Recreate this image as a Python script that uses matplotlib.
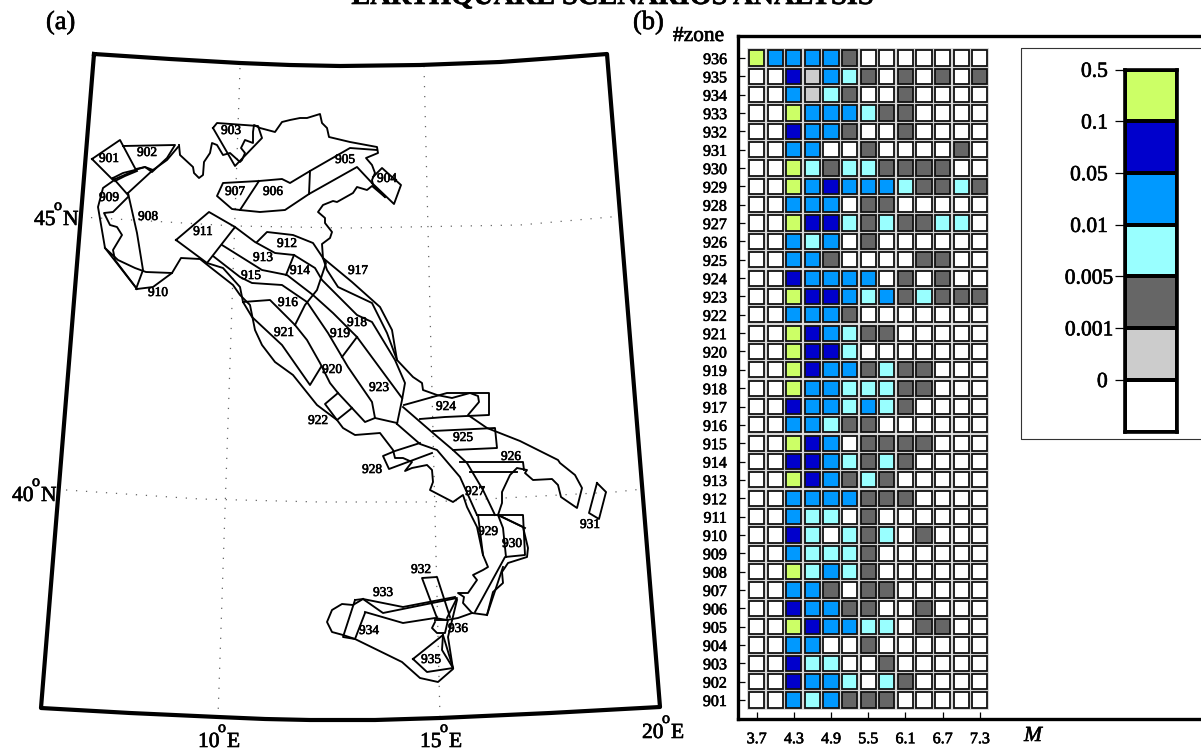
"""
Two panels: (a) seismogenic zone map of Italy, (b) zone vs magnitude probability grid.
"""

import numpy as np
import matplotlib
matplotlib.use('Agg')
import matplotlib.pyplot as plt
import matplotlib.patheffects as pe
from matplotlib.colors import ListedColormap
from matplotlib.patches import Rectangle
from matplotlib.text import Text

plt.rcParams['font.family'] = ['Liberation Serif', 'DejaVu Serif']

W, H = 1201, 750

# ── Panel (b) data ────────────────────────────────────────────────────────────
zones = list(range(936, 900, -1))
magnitudes = [3.7, 4.0, 4.3, 4.6, 4.9, 5.2, 5.5, 5.8, 6.1, 6.4, 6.7, 7.0, 7.3]
mag_ticks = [3.7, 4.3, 4.9, 5.5, 6.1, 6.7, 7.3]

# class index per zone (rows) and magnitude (columns), 0 = white ... 6 = yellow-green
classes = [
    [6, 4, 4, 4, 4, 2, 0, 0, 0, 0, 0, 0, 0],  # 936
    [0, 0, 5, 1, 4, 3, 2, 0, 2, 0, 2, 0, 2],
    [0, 0, 4, 1, 3, 2, 0, 0, 2, 0, 0, 0, 0],
    [0, 0, 6, 4, 4, 4, 3, 2, 2, 0, 0, 0, 0],
    [0, 0, 5, 4, 4, 2, 0, 0, 2, 0, 0, 0, 0],
    [0, 0, 4, 4, 0, 0, 2, 0, 0, 0, 0, 2, 0],
    [0, 0, 6, 3, 2, 3, 3, 2, 2, 2, 2, 0, 0],  # 930
    [0, 0, 6, 4, 5, 4, 4, 4, 3, 2, 2, 3, 2],
    [0, 0, 4, 4, 4, 0, 2, 2, 0, 0, 0, 0, 0],
    [0, 0, 6, 5, 5, 3, 2, 3, 2, 2, 3, 3, 0],
    [0, 0, 4, 3, 4, 0, 2, 0, 0, 0, 0, 0, 0],
    [0, 0, 4, 4, 2, 0, 0, 0, 0, 2, 2, 0, 0],
    [0, 0, 5, 4, 4, 4, 4, 0, 2, 0, 2, 0, 0],
    [0, 0, 6, 5, 5, 4, 3, 4, 2, 3, 2, 2, 2],
    [0, 0, 4, 4, 4, 2, 0, 0, 0, 0, 0, 0, 0],
    [0, 0, 6, 5, 4, 3, 2, 2, 0, 0, 0, 0, 0],
    [0, 0, 6, 5, 5, 3, 0, 0, 0, 0, 0, 0, 0],  # 920
    [0, 0, 6, 5, 4, 4, 2, 3, 2, 2, 0, 0, 0],
    [0, 0, 6, 4, 4, 3, 3, 3, 2, 2, 0, 0, 0],
    [0, 0, 5, 4, 4, 3, 4, 3, 2, 0, 0, 0, 0],
    [0, 0, 4, 4, 3, 2, 2, 0, 0, 0, 0, 0, 0],
    [0, 0, 6, 5, 4, 0, 2, 2, 2, 2, 0, 0, 0],
    [0, 0, 5, 5, 4, 3, 2, 3, 2, 0, 0, 0, 0],
    [0, 0, 6, 5, 4, 2, 3, 2, 0, 0, 0, 0, 0],
    [0, 0, 4, 4, 4, 4, 2, 2, 2, 0, 0, 0, 0],
    [0, 0, 4, 3, 3, 0, 2, 0, 0, 0, 0, 0, 0],
    [0, 0, 5, 3, 0, 3, 2, 3, 0, 2, 0, 0, 0],  # 910
    [0, 0, 4, 3, 3, 3, 2, 0, 0, 0, 0, 0, 0],
    [0, 0, 6, 3, 4, 3, 2, 0, 0, 0, 0, 0, 0],
    [0, 0, 4, 4, 2, 0, 2, 2, 0, 0, 0, 0, 0],
    [0, 0, 5, 4, 4, 2, 2, 0, 0, 2, 0, 0, 0],
    [0, 0, 6, 5, 4, 4, 3, 3, 0, 2, 2, 0, 0],
    [0, 0, 4, 4, 0, 0, 2, 0, 0, 0, 0, 0, 0],
    [0, 0, 5, 3, 3, 0, 0, 2, 0, 0, 0, 0, 0],
    [0, 0, 5, 4, 4, 3, 0, 3, 2, 0, 0, 0, 0],
    [0, 0, 4, 3, 4, 2, 2, 2, 0, 0, 0, 0, 0],  # 901
]

class_colors = ['#FFFFFF', '#CCCCCC', '#666666', '#99FFFF', '#0099FF', '#0000CC', '#CCFF66']
class_labels = ['0', '0.001', '0.005', '0.01', '0.05', '0.1', '0.5']

# ── Panel (a) data, map sheet coordinates ─────────────────────────────────────
frame = [(94, 54), (170, 59), (240, 63), (290, 65), (340, 66), (420, 65), (500, 62), (555, 58), (607, 54),
         (660, 707), (550, 713), (440, 718), (375, 720), (310, 720), (265, 719), (218, 717), (130, 713),
         (41, 708), (94, 54)]
meridians = [[(240, 68), (218, 717)], [(424, 66), (440, 718)]]
parallels = [[(81, 217), (235, 226), (350, 228), (520, 225), (622, 216)],
             [(66, 490), (200, 499), (320, 502), (430, 502), (615, 492), (643, 489)]]

coast = [(178, 147), (167, 160), (153, 170), (145, 167), (135, 170), (123, 173), (113, 178)]
alps = [(179, 145), (180, 155), (193, 167), (194, 173), (199, 178), (203, 175), (204, 162), (210, 153),
        (212, 143), (217, 145), (223, 155), (230, 153), (240, 162), (242, 160), (245, 153), (241, 148),
        (245, 140), (253, 143), (253, 132), (254, 125), (260, 128), (275, 132), (282, 122), (290, 120),
        (300, 118), (307, 118), (320, 114), (322, 123), (327, 128), (329, 137), (350, 142), (377, 147),
        (378, 153), (366, 158), (372, 165), (375, 173), (372, 180), (373, 185), (385, 197)]
adriatic = [(385, 197), (372, 186), (367, 190), (357, 187), (353, 193), (337, 202), (333, 201), (323, 205),
            (318, 212), (325, 218), (325, 223), (332, 232), (330, 238), (322, 244), (323, 258), (327, 270),
            (338, 287), (372, 303), (387, 333), (397, 360), (413, 377), (422, 383), (423, 390), (437, 395),
            (452, 398), (470, 393), (478, 396), (479, 402), (468, 415), (487, 428), (520, 441), (558, 460),
            (560, 463), (575, 475), (582, 488), (577, 508), (561, 497), (558, 485), (552, 479), (533, 480),
            (525, 473), (527, 470), (517, 468), (510, 475), (502, 492), (502, 503), (498, 515), (523, 527),
            (528, 548), (527, 557), (508, 563), (502, 572), (503, 583), (493, 592), (487, 615), (472, 613),
            (463, 603), (464, 597), (458, 593), (468, 593), (477, 580), (473, 575), (483, 570), (488, 567),
            (483, 555), (477, 527), (467, 507), (463, 495), (453, 502), (430, 490), (433, 482), (432, 470),
            (427, 465), (412, 468), (405, 471), (412, 462), (403, 458), (395, 458), (393, 450), (380, 433),
            (355, 435), (343, 428), (337, 420), (317, 405), (293, 375), (275, 362), (262, 345), (255, 330),
            (250, 305), (240, 295), (233, 285), (210, 267), (200, 259), (181, 258), (172, 273), (153, 287),
            (137, 289), (115, 260), (113, 250), (122, 235), (117, 227), (110, 225), (104, 213), (113, 212),
            (128, 197)]
sicily = [(363, 599), (353, 605), (342, 604), (332, 610), (327, 622), (332, 632), (343, 635), (355, 639),
          (402, 662), (420, 678), (438, 682), (453, 669), (448, 637), (457, 600)]
sicily_north = [(365, 612), (403, 623), (435, 618), (447, 620), (458, 618), (472, 613)]

zone_lines = [
    [(92, 159), (120, 140), (136, 170), (113, 180), (92, 159)],  # 901
    [(123, 146), (175, 145), (167, 158), (152, 172), (145, 167), (136, 169)],  # 902
    [(115, 181), (125, 176), (137, 171)],
    [(213, 128), (217, 123), (258, 126), (262, 138), (235, 166), (213, 128)],  # 903
    [(373, 177), (382, 168), (401, 185), (394, 204), (372, 183)],  # 904
    [(259, 181), (282, 179), (290, 183), (310, 171), (350, 148), (377, 150)],
    [(240, 210), (260, 212), (285, 210), (309, 194), (357, 167), (372, 183)],
    [(310, 171), (309, 194)],
    [(259, 181), (223, 183), (217, 196), (232, 209), (240, 210), (259, 181)],  # 907
    [(128, 193), (137, 233), (143, 270), (136, 289)],  # 908
    [(153, 170), (128, 193)],
    [(113, 181), (103, 188), (98, 207), (105, 248), (118, 260), (135, 268), (146, 272), (172, 273)],  # 909
    [(113, 178), (128, 195)],
    [(105, 248), (137, 289)],  # 910
    [(176, 240), (209, 212), (235, 227), (207, 263), (176, 240)],  # 911
    [(257, 242), (267, 232), (293, 235), (313, 243), (323, 258), (326, 263), (317, 290), (305, 305), (295, 325)],
    [(235, 227), (255, 242), (275, 253), (294, 255), (315, 268), (322, 280), (357, 315), (372, 322), (395, 360),
     (405, 383), (402, 400), (397, 424)],
    [(222, 245), (262, 270), (287, 275), (313, 295), (333, 313), (357, 337), (402, 398)],
    [(294, 255), (286, 275)],
    [(213, 256), (240, 277), (252, 283), (282, 285), (307, 302), (328, 333), (348, 367), (372, 402), (375, 418),
     (397, 423)],
    [(207, 263), (223, 268), (240, 287), (243, 302), (252, 317), (282, 345), (310, 385), (321, 367)],
    [(243, 302), (270, 300), (295, 325), (307, 340), (320, 363), (330, 383), (338, 393), (352, 408), (365, 422),
     (375, 418)],
    [(357, 337), (342, 357)],
    [(323, 258), (352, 282), (380, 307), (392, 330), (397, 360)],  # 917
    [(338, 393), (325, 404), (337, 420), (352, 408)],  # 922
    [(404, 405), (447, 393), (489, 393), (489, 415), (445, 417), (420, 419)],  # 924
    [(403, 407), (433, 433), (453, 450), (467, 463), (483, 490), (495, 515)],
    [(397, 424), (420, 444), (437, 450), (460, 477), (477, 515)],
    [(433, 431), (495, 428), (497, 448), (453, 450)],  # 925
    [(460, 462), (523, 462), (524, 470)],
    [(470, 472), (517, 472)],
    [(420, 443), (395, 451), (383, 456), (389, 469), (432, 453)],  # 928
    [(477, 515), (523, 515), (525, 555), (505, 557), (475, 612)],  # 929
    [(498, 515), (503, 528), (506, 557)],
    [(478, 515), (483, 555)],
    [(487, 615), (503, 567)],
    [(498, 515), (525, 528)],
    [(597, 483), (606, 492), (599, 519), (589, 513), (597, 483)],  # 931
    [(437, 618), (422, 578), (437, 577), (450, 617)],  # 932
    [(355, 600), (363, 599), (383, 613), (457, 598), (447, 618)],  # 933
    [(363, 599), (403, 607), (455, 597)],
    [(355, 600), (343, 637), (355, 639), (365, 613)],  # 934
    [(413, 659), (443, 635), (453, 668), (427, 672), (413, 659)],  # 935
    [(435, 622), (432, 628), (437, 633), (445, 633), (448, 620), (435, 620)],  # 936
    [(443, 635), (442, 650), (453, 668)],
]

zone_names = list(range(901, 937))
zone_label_xy = [(109, 159), (147, 153), (231, 131), (387, 179), (345, 160), (273, 192), (235, 192), (148, 217),
                 (109, 198), (158, 293), (203, 232), (287, 244), (263, 258), (300, 271), (251, 276), (288, 303),
                 (358, 271), (357, 323), (340, 334), (332, 370), (284, 333), (318, 421), (379, 388), (446, 407),
                 (463, 438), (511, 457), (475, 492), (372, 470), (488, 532), (512, 544), (590, 525), (421, 570),
                 (383, 593), (369, 631), (431, 660), (458, 629)]

# ── Figure ────────────────────────────────────────────────────────────────────
fig = plt.figure(figsize=(W / 100, H / 100), dpi=100)


def px_axes(left, top, right, bottom):
    return fig.add_axes([left / W, 1 - bottom / H, (right - left) / W, (bottom - top) / H])


def draw(ax, pts, **kw):
    a = np.array(pts)
    ax.plot(a[:, 0], a[:, 1], solid_joinstyle='round', **kw)


# Map
ax = px_axes(0, 0, W, H)
ax.set_xlim(0, W)
ax.set_ylim(H, 0)
ax.axis('off')

for grid_line in meridians + parallels:
    draw(ax, grid_line, color='#666666', lw=0.9, ls=(0, (1, 7)))
draw(ax, frame, color='black', lw=3.0)
for line in [coast, alps, adriatic, sicily, sicily_north] + zone_lines:
    draw(ax, line, color='black', lw=1.35)
for name, (x, y) in zip(zone_names, zone_label_xy):
    ax.text(x, y, str(name), fontsize=9.6, ha='center', va='center', color='black')


def degree_label(x, y, number, letter):
    ax.text(x, y, number, fontsize=15.5, ha='left', va='baseline')
    ax.text(x + 20, y - 15, 'o', fontsize=11.5, ha='left', va='baseline')
    ax.text(x + 29, y, letter, fontsize=15.5, ha='left', va='baseline')


degree_label(34, 225, '45', 'N')
degree_label(12, 501, '40', 'N')
degree_label(198, 747, '10', 'E')
degree_label(420, 747, '15', 'E')
degree_label(642, 738, '20', 'E')

ax.text(46, 29, '(a)', fontsize=19, ha='left', va='baseline')
ax.text(633, 29, '(b)', fontsize=19, ha='left', va='baseline')
ax.text(673, 41, '#zone', fontsize=15.4, ha='left', va='baseline')
ax.text(613, 4, 'EARTHQUAKE SCENARIOS ANALYSIS', fontsize=20.4, fontweight='bold', ha='center', va='baseline')
ax.text(1024, 741, 'M', fontsize=15.5, style='italic', ha='left', va='baseline')

# Legend box, open on the right edge
ax.plot([W, 1021, 1021, W], [47.5, 47.5, 439, 439], color='#333333', lw=0.8)

# Grid
ax2 = px_axes(738, 36, W, 718.7)
ax2.set_xlim(3.4, 3.4 + 463 / 62)
ax2.set_ylim(899.98, 937.2)
ax2.patch.set_alpha(0)
for spine in ['left', 'top', 'bottom']:
    ax2.spines[spine].set_linewidth(2.4)
ax2.spines['right'].set_visible(False)
cell_w = 15.2 / 62
cell_h = 15.2 / 18.34
for i, zone in enumerate(zones):
    for j, mag in enumerate(magnitudes):
        ax2.add_patch(Rectangle((mag - cell_w / 2, zone - cell_h / 2), cell_w, cell_h,
                                fc='none', ec='#cfcfcf', lw=2.6, zorder=2))
        ax2.add_patch(Rectangle((mag - cell_w / 2, zone - cell_h / 2), cell_w, cell_h,
                                fc=class_colors[classes[i][j]], ec='#111111', lw=1.3, zorder=3))
ax2.set_xticks(mag_ticks)
ax2.set_xticklabels([str(m) for m in mag_ticks])
ax2.set_yticks(zones)
ax2.set_yticklabels([str(z) for z in zones])
ax2.tick_params(axis='x', direction='in', length=5, width=0.9, labelsize=11.5, pad=9)
ax2.tick_params(axis='y', direction='in', length=5, width=0.9, labelsize=11.5, pad=8)

# Colour key
ax3 = px_axes(1124.5, 69.5, 1176.5, 431.5)
levels = np.arange(8)
ax3.pcolormesh([0, 1], levels, np.arange(7).reshape(-1, 1),
               cmap=ListedColormap(class_colors), vmin=-0.5, vmax=6.5, edgecolors='black', linewidth=2.6)
ax3.set_xlim(0, 1)
ax3.set_ylim(0, 7)
ax3.set_xticks([])
ax3.set_yticks(levels[1:])
ax3.set_yticklabels([])
ax3.tick_params(axis='y', length=7, width=0.9)
for spine in ax3.spines.values():
    spine.set_linewidth(2.6)
for level, label in zip(levels[1:], class_labels):
    shift = -8 if len(label) > 4 else -12
    ax3.annotate(label, xy=(0, level), xycoords=('axes fraction', 'data'), xytext=(shift, -2),
                 textcoords='offset points', fontsize=15.5, ha='right', va='center')

# the reference text is heavier than plain Liberation Serif
for t in fig.findobj(Text):
    t.set_path_effects([pe.withStroke(linewidth=0.45, foreground='black')])

fig.savefig('out.png', dpi=100)
